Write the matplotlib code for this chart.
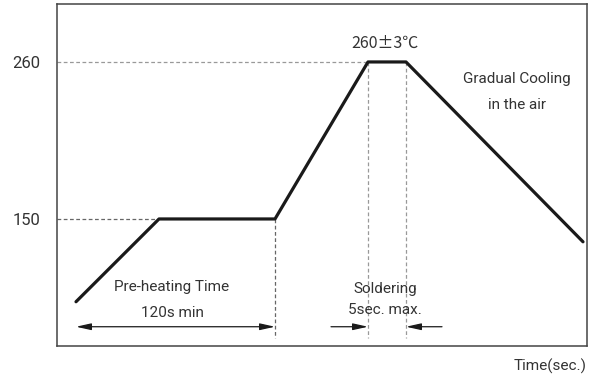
import matplotlib
matplotlib.use("Agg")
import matplotlib.pyplot as plt

plt.rcParams['font.family'] = ['Roboto', 'Noto Sans CJK KR', 'DejaVu Sans']

# Profile data (time in arbitrary units, temperature in degC)
time_pts = [19, 102, 218, 311, 349, 526]
temp_pts = [92, 150, 150, 260, 260, 134]
ytick_vals = [150, 260]
ytick_labels = ["150", "260"]

fs = 11
txt_col = "#333333"

fig = plt.figure(figsize=(5.91, 3.80), dpi=100)
ax = fig.add_axes([57/591, 34/380, 530/591, 342/380])
ax.set_xlim(0, 530)
ax.set_ylim(61.0, 300.6)

ax.plot(time_pts, temp_pts, color="#1a1a1a", lw=2.3, solid_capstyle="round", zorder=3)

dash_kw = dict(color="#999999", lw=0.9, ls=(0, (3, 2)), zorder=1)
ax.plot([0, time_pts[3]], [260, 260], **dash_kw)
ax.plot([0, time_pts[1]], [150, 150], **{**dash_kw, 'color': '#666666'})
ax.plot([time_pts[2], time_pts[2]], [150, 66.3], **{**dash_kw, 'color': '#666666'})
ax.plot([time_pts[3], time_pts[3]], [260, 66.3], **dash_kw)
ax.plot([time_pts[4], time_pts[4]], [260, 66.3], **dash_kw)

arrow_y = 74.5
ap = dict(arrowstyle="<|-|>,head_length=0.9,head_width=0.2", color="#1a1a1a", lw=0.9,
          shrinkA=0, shrinkB=0)
ax.annotate("", xy=(time_pts[0], arrow_y), xytext=(time_pts[2], arrow_y), arrowprops=ap)
ap1 = dict(arrowstyle="-|>,head_length=0.9,head_width=0.2", color="#1a1a1a", lw=0.9,
           shrinkA=0, shrinkB=0)
ax.annotate("", xy=(time_pts[3], arrow_y), xytext=(274, arrow_y), arrowprops=ap1)
ax.annotate("", xy=(time_pts[4], arrow_y), xytext=(385, arrow_y), arrowprops=ap1)

ax.text(115, 102.4, "Pre-heating Time", ha="center", va="center", fontsize=fs, color=txt_col)
ax.text(115, 84.1, "120s min", ha="center", va="center", fontsize=fs, color=txt_col)
ax.text(328, 273.3, "260±3℃", ha="center", va="center", fontsize=11.5, color=txt_col,
        family=['Noto Sans CJK KR', 'DejaVu Sans'])
ax.text(460, 248, "Gradual Cooling", ha="center", va="center", fontsize=fs, color=txt_col)
ax.text(460, 230, "in the air", ha="center", va="center", fontsize=fs, color=txt_col)
ax.text(328, 101, "Soldering", ha="center", va="center", fontsize=fs, color=txt_col)
ax.text(328, 86.2, "5sec. max.", ha="center", va="center", fontsize=fs, color=txt_col)

fig.text(587/591, 1 - 366/380, "Time(sec.)", ha="right", va="center", fontsize=fs, color=txt_col)

ax.set_xticks([])
ax.set_yticks(ytick_vals)
ax.set_yticklabels(ytick_labels, fontsize=12, color=txt_col)
ax.tick_params(axis="y", length=0, pad=12)
for s in ax.spines.values():
    s.set_color("#444444")
    s.set_linewidth(1.1)

fig.savefig("out.png", dpi=100)
